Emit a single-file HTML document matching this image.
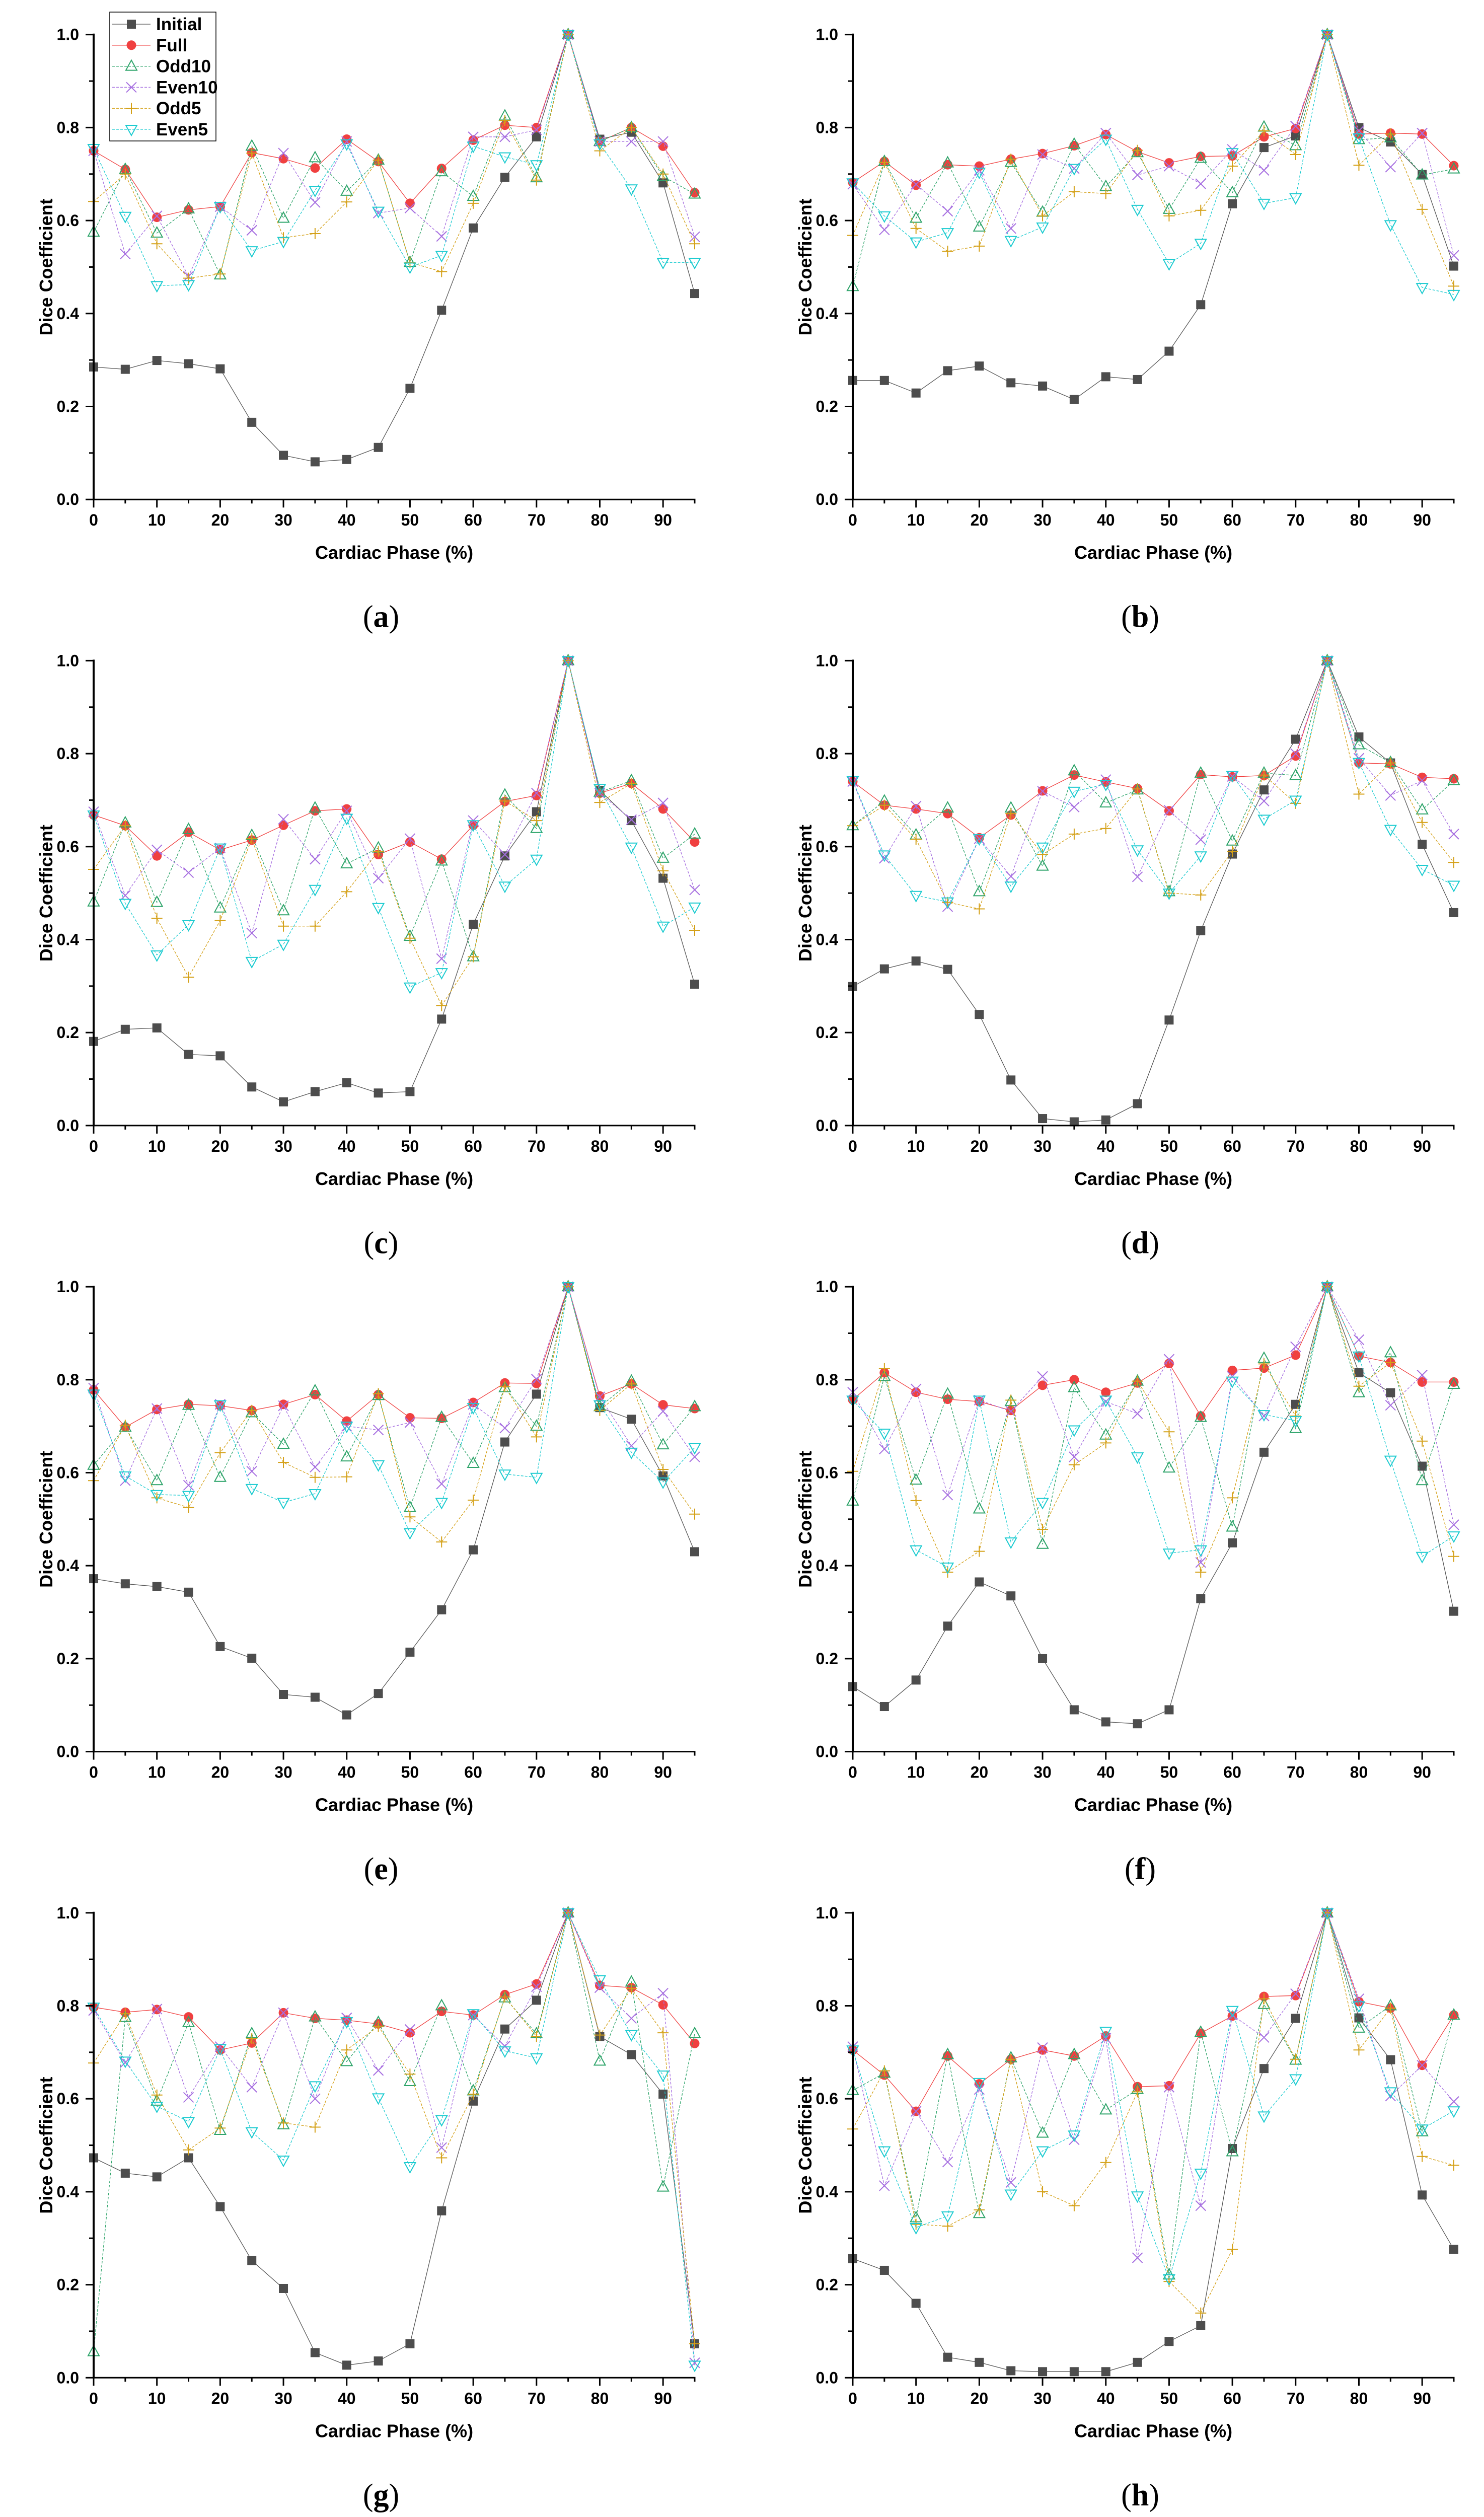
<!DOCTYPE html>
<html><head><meta charset="utf-8">
<style>
html,body{margin:0;padding:0;background:#fff;width:2948px;height:5040px;overflow:hidden;}
svg{display:block;overflow:hidden;}
text{font-family:"Liberation Sans",Arial,sans-serif;}
</style></head>
<body>
<svg id="fig" width="2948" height="5040" xmlns="http://www.w3.org/2000/svg"></svg>
<script>
const phases = [0,5,10,15,20,25,30,35,40,45,50,55,60,65,70,75,80,85,90,95];
const yTicks = [0.0,0.2,0.4,0.6,0.8,1.0];
const yTickLabels = ["0.0","0.2","0.4","0.6","0.8","1.0"];
const xTicks = [0,10,20,30,40,50,60,70,80,90];
const panelLabels = ["a","b","c","d","e","f","g","h"];
const seriesNames = ["Initial","Full","Odd10","Even10","Odd5","Even5"];

const initialA=[.285,.28,.299,.292,.281,.166,.095,.081,.086,.112,.239,.407,.584,.693,.78,1,.775,.79,.681,.443];
const fullA=[.75,.71,.607,.623,.63,.746,.733,.713,.775,.727,.637,.712,.773,.805,.80,1,.77,.80,.76,.66];
const odd10A=[.575,.71,.573,.625,.483,.76,.605,.735,.663,.73,.51,.705,.652,.825,.692,1,.77,.80,.695,.657];
const even10A=[.75,.528,.61,.48,.63,.579,.745,.639,.77,.616,.627,.566,.78,.78,.795,1,.77,.77,.77,.565];
const odd5A=[.641,.70,.55,.476,.485,.745,.563,.572,.64,.73,.51,.49,.637,.815,.687,1,.75,.80,.70,.55];
const even5A=[.755,.609,.46,.462,.63,.535,.555,.665,.765,.62,.50,.525,.76,.737,.72,1,.765,.668,.51,.51];

const initialB=[.256,.256,.229,.277,.287,.251,.244,.215,.264,.258,.319,.419,.636,.757,.782,1,.80,.769,.699,.502];
const fullB=[.682,.727,.676,.72,.717,.732,.744,.761,.785,.748,.724,.738,.739,.78,.798,1,.786,.788,.786,.718];
const odd10B=[.458,.727,.605,.724,.586,.725,.618,.764,.673,.746,.624,.734,.66,.801,.761,1,.774,.778,.698,.711];
const even10B=[.678,.58,.678,.62,.708,.583,.742,.712,.788,.698,.717,.679,.753,.708,.803,1,.793,.715,.788,.525];
const odd5B=[.568,.725,.583,.534,.545,.732,.61,.662,.658,.751,.61,.622,.717,.793,.742,1,.719,.786,.624,.459];
const even5B=[.681,.61,.554,.574,.704,.557,.586,.712,.775,.624,.507,.551,.746,.637,.649,1,.778,.591,.456,.441];

const initialC=[.181,.207,.21,.153,.15,.083,.051,.073,.092,.07,.073,.229,.433,.58,.675,1,.721,.656,.532,.304];
const fullC=[.668,.645,.58,.631,.593,.614,.646,.677,.681,.583,.61,.573,.646,.697,.71,1,.715,.736,.681,.61];
const odd10C=[.481,.651,.48,.637,.468,.624,.462,.683,.563,.597,.407,.569,.363,.711,.639,1,.717,.742,.575,.627];
const even10C=[.675,.495,.593,.544,.597,.414,.659,.573,.677,.532,.617,.359,.656,.583,.715,1,.715,.658,.694,.507];
const odd5C=[.551,.645,.446,.319,.441,.617,.429,.429,.503,.59,.403,.258,.363,.698,.656,1,.695,.736,.548,.42];
const even5C=[.668,.478,.367,.432,.597,.353,.39,.508,.661,.469,.298,.329,.647,.515,.573,1,.725,.599,.429,.47];

const initialD=[.299,.337,.354,.336,.239,.098,.015,.008,.012,.047,.227,.419,.584,.722,.831,1,.836,.78,.605,.458];
const fullD=[.74,.689,.681,.671,.619,.668,.72,.754,.739,.725,.677,.755,.75,.753,.795,1,.78,.778,.749,.746];
const odd10D=[.645,.698,.625,.683,.503,.683,.558,.763,.694,.722,.503,.758,.612,.758,.753,1,.819,.781,.679,.742];
const even10D=[.74,.575,.687,.471,.617,.536,.719,.685,.744,.535,.678,.615,.751,.698,.80,1,.79,.71,.742,.627];
const odd5D=[.645,.689,.616,.48,.466,.671,.583,.627,.639,.724,.50,.496,.59,.754,.693,1,.713,.78,.652,.566];
const even5D=[.742,.582,.495,.481,.617,.515,.599,.719,.734,.593,.50,.58,.753,.659,.70,1,.781,.637,.551,.517];

const initialE=[.372,.361,.355,.343,.226,.201,.123,.117,.079,.125,.214,.305,.434,.666,.769,1,.74,.715,.593,.43];
const fullE=[.778,.698,.736,.747,.744,.734,.747,.768,.711,.768,.718,.717,.751,.793,.792,1,.765,.791,.746,.738];
const odd10E=[.616,.698,.583,.745,.59,.729,.661,.776,.634,.766,.525,.719,.62,.783,.70,1,.742,.797,.66,.742];
const even10E=[.782,.583,.738,.573,.747,.603,.744,.612,.70,.692,.708,.576,.747,.696,.801,1,.763,.658,.732,.634];
const odd5E=[.583,.702,.546,.525,.643,.734,.622,.59,.591,.77,.505,.451,.541,.785,.677,1,.734,.791,.607,.511];
const even5E=[.769,.593,.553,.551,.746,.566,.536,.555,.70,.617,.471,.536,.74,.597,.59,1,.746,.644,.58,.654];

const initialF=[.14,.097,.154,.27,.365,.335,.20,.09,.064,.06,.09,.329,.449,.644,.747,1,.815,.772,.614,.302];
const fullF=[.757,.815,.773,.758,.753,.734,.788,.80,.773,.793,.835,.722,.82,.825,.853,1,.851,.837,.795,.795];
const odd10F=[.539,.807,.584,.769,.522,.753,.446,.783,.681,.797,.61,.719,.483,.846,.695,1,.772,.858,.583,.79];
const even10F=[.773,.651,.78,.552,.756,.732,.807,.634,.753,.727,.844,.407,.807,.722,.871,1,.886,.745,.81,.488];
const odd5F=[.603,.824,.54,.386,.431,.756,.478,.617,.664,.797,.688,.386,.546,.834,.722,1,.786,.837,.668,.42];
const even5F=[.756,.685,.434,.397,.756,.451,.536,.692,.756,.634,.427,.434,.797,.725,.712,1,.851,.627,.42,.464];

const initialG=[.473,.44,.432,.473,.368,.252,.192,.054,.027,.036,.073,.359,.595,.75,.812,1,.734,.695,.61,.073];
const fullG=[.797,.786,.792,.776,.705,.72,.785,.773,.769,.761,.742,.788,.78,.824,.847,1,.844,.839,.802,.719];
const odd10G=[.056,.775,.595,.764,.532,.74,.544,.776,.68,.764,.637,.80,.617,.817,.74,1,.681,.851,.41,.74];
const even10G=[.79,.678,.793,.603,.712,.625,.785,.60,.774,.661,.749,.495,.78,.713,.841,1,.839,.773,.827,.032];
const odd5G=[.677,.783,.608,.49,.537,.73,.548,.539,.705,.756,.653,.473,.61,.819,.734,1,.737,.837,.742,.073];
const even5G=[.797,.681,.584,.551,.708,.529,.468,.628,.766,.602,.454,.555,.783,.703,.688,1,.856,.738,.651,.027];

const initialH=[.256,.231,.16,.044,.033,.015,.013,.013,.013,.033,.078,.112,.493,.665,.773,1,.774,.684,.393,.276];
const fullH=[.705,.651,.573,.692,.632,.685,.705,.692,.735,.626,.628,.741,.778,.82,.822,1,.809,.795,.672,.78];
const odd10H=[.618,.655,.344,.695,.353,.688,.526,.695,.576,.62,.221,.743,.486,.803,.683,1,.752,.80,.529,.78];
const even10H=[.712,.413,.573,.464,.62,.42,.71,.512,.73,.258,.625,.37,.78,.732,.826,1,.815,.606,.672,.594];
const odd5H=[.535,.66,.33,.326,.361,.685,.40,.37,.463,.615,.207,.139,.276,.815,.685,1,.705,.795,.476,.457];
const even5H=[.705,.488,.323,.348,.635,.395,.488,.522,.745,.391,.213,.44,.79,.563,.643,1,.80,.615,.535,.574];

const panelData = [
 [initialA,fullA,odd10A,even10A,odd5A,even5A],
 [initialB,fullB,odd10B,even10B,odd5B,even5B],
 [initialC,fullC,odd10C,even10C,odd5C,even5C],
 [initialD,fullD,odd10D,even10D,odd5D,even5D],
 [initialE,fullE,odd10E,even10E,odd5E,even5E],
 [initialF,fullF,odd10F,even10F,odd5F,even5F],
 [initialG,fullG,odd10G,even10G,odd5G,even5G],
 [initialH,fullH,odd10H,even10H,odd5H,even5H]
];

const styles = [
 {color:"#4d4d4d", line:"#555", dash:null, marker:"square"},
 {color:"#f04040", line:"#f04040", dash:null, marker:"circle"},
 {color:"#2ea46a", line:"#2ea46a", dash:"5,3", marker:"tri-up"},
 {color:"#a66ee0", line:"#a66ee0", dash:"5,3", marker:"cross"},
 {color:"#d4a017", line:"#d4a017", dash:"5,3", marker:"plus"},
 {color:"#1ccbd0", line:"#1ccbd0", dash:"5,3", marker:"tri-down"}
];
const seriesKeys=["initial","full","odd10","even10","odd5","even5"];

const NS="http://www.w3.org/2000/svg";
const svg=document.getElementById("fig");
function mk(tag, attrs, parent){
  const e=document.createElementNS(NS,tag);
  for(const k in attrs) e.setAttribute(k,attrs[k]);
  (parent||svg).appendChild(e);
  return e;
}

function drawMarker(g, type, cx, cy, color){
  let m;
  const s=9;
  if(type==="square"){
    m=mk("rect",{x:cx-s,y:cy-s,width:2*s,height:2*s,fill:color},g);
  } else if(type==="circle"){
    m=mk("circle",{cx:cx,cy:cy,r:s+0.5,fill:color},g);
  } else if(type==="tri-up"){
    m=mk("polygon",{points:`${cx},${cy-12} ${cx-11},${cy+8} ${cx+11},${cy+8}`,fill:"none",stroke:color,"stroke-width":2},g);
  } else if(type==="tri-down"){
    m=mk("polygon",{points:`${cx},${cy+12} ${cx-11},${cy-8} ${cx+11},${cy-8}`,fill:"none",stroke:color,"stroke-width":2},g);
  } else if(type==="cross"){
    m=mk("path",{d:`M${cx-10},${cy-10}L${cx+10},${cy+10}M${cx-10},${cy+10}L${cx+10},${cy-10}`,stroke:color,"stroke-width":2,fill:"none"},g);
  } else {
    m=mk("path",{d:`M${cx-11},${cy}L${cx+11},${cy}M${cx},${cy-11}L${cx},${cy+11}`,stroke:color,"stroke-width":2,fill:"none"},g);
  }
  return m;
}

const X0=186, XW=1194, Y1=68.7, YH=923.5, COLDX=1508, ROWDY=1243.7;

panelData.forEach((series,pi)=>{
  const col=pi%2, row=Math.floor(pi/2);
  const left=X0+col*COLDX, top=Y1+row*ROWDY, bottom=top+YH;
  const xs=v=>left+(v/95)*XW;
  const ys=v=>bottom-v*YH;
  const g=mk("g",{});
  
  

  series.forEach((vals,si)=>{
    const st=styles[si];
    const sg=mk("g",{},g);
    
    
    const pts=vals.map((v,i)=>xs(phases[i]).toFixed(1)+","+ys(v).toFixed(1)).join(" ");
    const pl=mk("polyline",{points:pts,fill:"none",stroke:st.line,"stroke-width":1.3},sg);
    if(st.dash) pl.setAttribute("stroke-dasharray",st.dash);
    
    
    vals.forEach((v,i)=>{
      const m=drawMarker(sg,st.marker,xs(phases[i]),ys(v),st.color);
      
      
    });
  });

  const ax=mk("g",{},g);
  
  
  const yl=mk("line",{x1:left,y1:top-2,x2:left,y2:bottom+1.5,stroke:"#000","stroke-width":4},ax);
  
  
  const xl=mk("line",{x1:left-2,y1:bottom,x2:xs(95)+1.5,y2:bottom,stroke:"#000","stroke-width":3},ax);
  
  
  for(let k=0;k<=10;k++){
    const v=k/10, y=ys(v), major=(k%2===0);
    mk("line",{x1:left-(major?16:9),y1:y,x2:left,y2:y,stroke:"#000","stroke-width":3},ax);
  }
  yTicks.forEach((v,i)=>{
    const t=mk("text",{x:left-29,y:ys(v)+11,"text-anchor":"end","font-size":32,"font-weight":"bold",fill:"#000"},ax);
    t.textContent=yTickLabels[i];
    
    
  });
  phases.forEach(p=>{
    const major=(p%10===0);
    mk("line",{x1:xs(p),y1:bottom,x2:xs(p),y2:bottom+(major?16:8),stroke:"#000","stroke-width":3},ax);
  });
  xTicks.forEach(p=>{
    const t=mk("text",{x:xs(p),y:bottom+52,"text-anchor":"middle","font-size":32,"font-weight":"bold",fill:"#000"},ax);
    t.textContent=String(p);
    
    
  });
  const xt=mk("text",{x:left+597,y:bottom+118,"text-anchor":"middle","font-size":36,"font-weight":"bold",fill:"#000"},ax);
  xt.textContent="Cardiac Phase (%)";
  
  
  const cy=(top+bottom)/2, cx=left-94;
  const yt=mk("text",{x:cx,y:cy,"text-anchor":"middle","font-size":36,"font-weight":"bold",fill:"#000",transform:`rotate(-90 ${cx} ${cy})`},ax);
  yt.setAttribute("dy","12");
  yt.textContent="Dice Coefficient";
  
  

  const pl=mk("text",{x:left+571,y:top+1177,"text-anchor":"middle","font-size":62,fill:"#000"},g);
  pl.setAttribute("style","font-family:'Liberation Serif',serif");
  
  
  const s1=mk("tspan",{},pl); s1.textContent="(";
  const s2=mk("tspan",{"font-weight":"bold"},pl); s2.textContent=panelLabels[pi];
  const s3=mk("tspan",{},pl); s3.textContent=")";

  if(pi===0){
    const lg=mk("g",{},g);
    
    
    mk("rect",{x:218,y:24,width:211,height:256,fill:"#fff",stroke:"#000","stroke-width":1.5},lg);
    seriesNames.forEach((nm,si)=>{
      const y=48+si*41.8, st=styles[si];
      const ent=mk("g",{},lg);
      
      
      const ln=mk("line",{x1:223,y1:y,x2:299,y2:y,stroke:st.line,"stroke-width":1.3},ent);
      if(st.dash) ln.setAttribute("stroke-dasharray",st.dash);
      drawMarker(ent,st.marker,261,y,st.color);
      const t=mk("text",{x:310,y:y+12,"font-size":35,"font-weight":"bold",fill:"#000"},ent);
      t.textContent=nm;
    });
  }
});
</script>
</body></html>
